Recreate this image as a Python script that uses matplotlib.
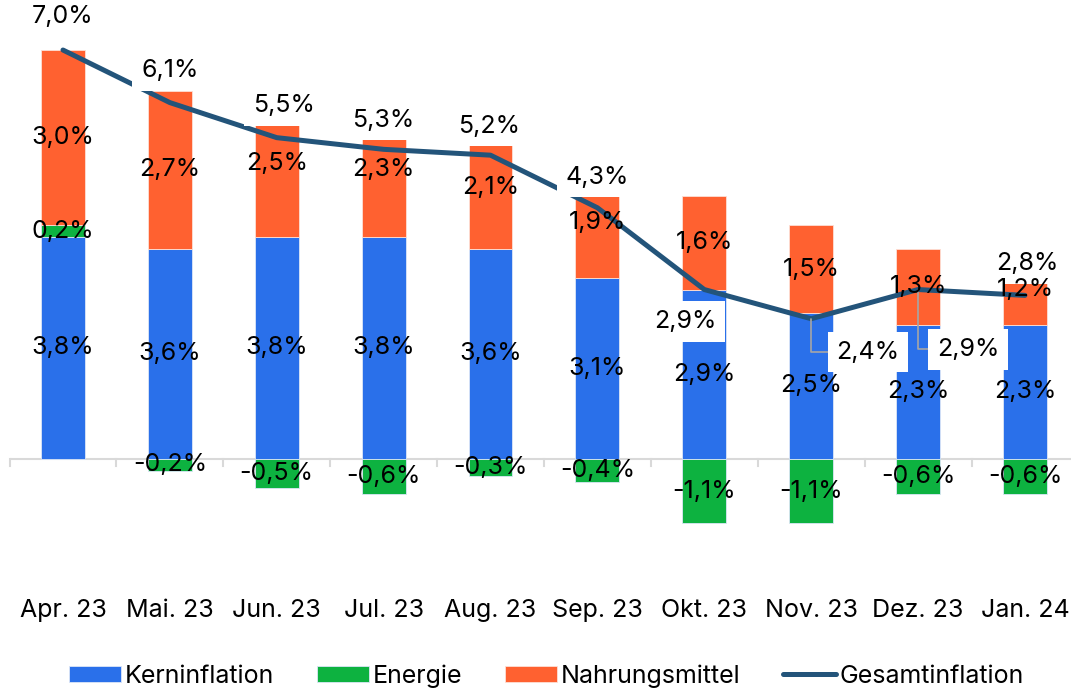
import matplotlib.pyplot as plt
import numpy as np

plt.rcParams['font.family'] = ['Inter', 'DejaVu Sans']

monate = ['Apr. 23', 'Mai. 23', 'Jun. 23', 'Jul. 23', 'Aug. 23',
          'Sep. 23', 'Okt. 23', 'Nov. 23', 'Dez. 23', 'Jan. 24']
kern = [3.8, 3.6, 3.8, 3.8, 3.6, 3.1, 2.9, 2.5, 2.3, 2.3]
energie = [0.2, -0.2, -0.5, -0.6, -0.3, -0.4, -1.1, -1.1, -0.6, -0.6]
nahrung = [3.0, 2.7, 2.5, 2.3, 2.1, 1.9, 1.6, 1.5, 1.3, 1.2]
gesamt = [7.0, 6.1, 5.5, 5.3, 5.2, 4.3, 2.9, 2.4, 2.9, 2.8]

# label offsets (points) for the Gesamtinflation values
ges_off = [(0, 24), (0, 23), (5, 23), (0, 21), (-1, 21), (0, 22),
           (-14, -23), (41, -24), (36, -43), (2, 23)]

c_kern = '#2A70EA'
c_en = '#0DB240'
c_nahr = '#FF6130'
c_ges = '#23547A'

fs = 18
x = np.arange(len(monate))
w = 0.41

fig = plt.figure(figsize=(10.71, 6.90), dpi=100)
ax = fig.add_axes([0.0089, 0.1486, 0.998, 0.8297])

kern = np.array(kern)
energie = np.array(energie)
nahrung = np.array(nahrung)

en_bottom = np.where(energie >= 0, kern, 0)
top_pos = kern + np.clip(energie, 0, None)

b1 = ax.bar(x, kern, w, color=c_kern, edgecolor='#dce6f7', linewidth=0.6, label='Kerninflation', zorder=2)
b2 = ax.bar(x, energie, w, bottom=en_bottom, color=c_en, edgecolor='#dce6f7', linewidth=0.6, label='Energie', zorder=2)
b3 = ax.bar(x, nahrung, w, bottom=top_pos, color=c_nahr, edgecolor='#fde0d6', linewidth=0.6, label='Nahrungsmittel', zorder=2)
l1, = ax.plot(x, gesamt, color=c_ges, linewidth=3.6, solid_capstyle='round', solid_joinstyle='round',
              label='Gesamtinflation', zorder=4)

def fmt(v):
    return f'{v:.1f}%'.replace('.', ',')

# segment labels
for i in range(len(x)):
    ax.text(x[i], kern[i] / 2, fmt(kern[i]), ha='center', va='center', fontsize=fs, zorder=8)
    ax.text(x[i], en_bottom[i] + energie[i] / 2, fmt(energie[i]), ha='center', va='center', fontsize=fs, zorder=8)
    ax.text(x[i], top_pos[i] + nahrung[i] / 2, fmt(nahrung[i]), ha='center', va='center', fontsize=fs, zorder=8)

# total labels with white boxes
for i in range(len(x)):
    dx, dy = ges_off[i]
    lead = None
    if i in (7, 8):
        lead = dict(arrowstyle='-', color='#A6A6A6', lw=1.2, shrinkA=0, shrinkB=0,
                    connectionstyle='angle,angleA=180,angleB=90,rad=0', relpos=(0, 0.5))
    ax.annotate(fmt(gesamt[i]), (x[i], gesamt[i]), xytext=(dx, dy), textcoords='offset points',
                ha='center', va='center', fontsize=fs, zorder=7,
                bbox=dict(boxstyle='square,pad=0.35', fc='white', ec='none'),
                arrowprops=lead)

# baseline with category separators
ax.axhline(0, color='#D9D9D9', linewidth=1.5, zorder=1)
for b in np.arange(-0.5, len(x), 1.0):
    ax.plot([b, b], [0, -0.12], color='#D9D9D9', linewidth=1.5, zorder=1, clip_on=False)

ax.set_xlim(-0.5, len(x) - 0.5)
ax.set_ylim(-2.2, 7.6)
ax.set_xticks(x)
ax.set_xticklabels(monate, fontsize=fs)
ax.tick_params(axis='x', length=0, pad=8)
ax.set_yticks([])
for s in ax.spines.values():
    s.set_visible(False)

fig.legend([b1, b2, b3, l1], ['Kerninflation', 'Energie', 'Nahrungsmittel', 'Gesamtinflation'],
           loc='center', bbox_to_anchor=(0.51, 0.02), ncol=4, frameon=False, fontsize=fs,
           handlelength=2.1, handleheight=0.64, handletextpad=0.15, columnspacing=1.7)

fig.savefig('out.png', dpi=100)
